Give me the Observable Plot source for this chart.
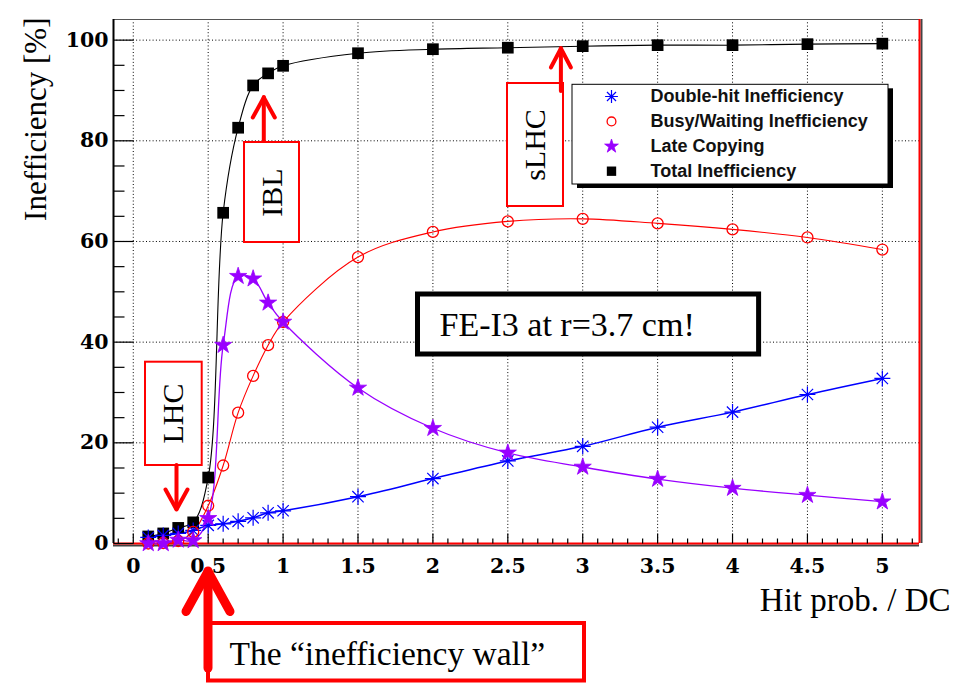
<!DOCTYPE html>
<html><head><meta charset="utf-8">
<script src="https://cdn.jsdelivr.net/npm/d3@7"></script>
<script src="https://cdn.jsdelivr.net/npm/@observablehq/plot@0.6"></script>
<style>body{margin:0;background:#fff}svg{display:block}</style>
</head><body><div id="chart"></div>
<script>
// ---- data ----
const hitProb     = [0.1, 0.2, 0.3, 0.4, 0.5, 0.6, 0.7, 0.8, 0.9, 1.0, 1.5, 2, 2.5, 3, 3.5, 4, 4.5, 5];
const doubleHit   = [1.2, 1.6, 2.0, 2.6, 3.6, 3.9, 4.4, 5.1, 6.1, 6.5, 9.3, 12.9, 16.4, 19.3, 23.1, 26.1, 29.6, 32.8];
const busyWaiting = [0.0, 0.1, 0.5, 2.3, 7.5, 15.5, 26.0, 33.3, 39.4, 44.0, 56.9, 61.9, 64.0, 64.5, 63.6, 62.4, 60.8, 58.4];
const lateCopying = [0.0, 0.0, 0.7, 0.6, 5.0, 39.4, 53.1, 52.6, 47.8, 44.0, 30.9, 22.9, 18.0, 15.2, 12.8, 11.0, 9.6, 8.3];
const totalIneff  = [1.4, 2.0, 3.1, 4.2, 13.1, 65.7, 82.6, 91.0, 93.4, 94.9, 97.4, 98.2, 98.5, 98.8, 99.0, 99.0, 99.2, 99.3];
const seriesNames = ["Double-hit Inefficiency", "Busy/Waiting Inefficiency", "Late Copying", "Total Inefficiency"];
const xTicks      = [0, 0.5, 1, 1.5, 2, 2.5, 3, 3.5, 4, 4.5, 5];
const xTickLabels = ["0", "0.5", "1", "1.5", "2", "2.5", "3", "3.5", "4", "4.5", "5"];
const yTicks      = [0, 20, 40, 60, 80, 100];
const yTickLabels = ["0", "20", "40", "60", "80", "100"];
const xTitle = "Hit prob. / DC";
const yTitle = "Inefficiency [%]";

// ---- layout ----
const W = 967, H = 683, mL = 113, mR = 48, mT = 19, mB = 140;
const xDomain = [-0.132, 5.248], yDomain = [0, 104.1];
// helpers turning page pixels into data coordinates for annotations
const X = px => xDomain[0] + (px - mL) * (xDomain[1] - xDomain[0]) / (W - mR - mL);
const Y = py => yDomain[0] + (H - mB - py) * (yDomain[1] - yDomain[0]) / (H - mB - mT);

// ---- symbols ----
const asterisk = {draw(ctx, size) {
  const r = Math.sqrt(size / Math.PI), d = r * Math.SQRT1_2;
  ctx.moveTo(-r, 0); ctx.lineTo(r, 0); ctx.moveTo(0, -r); ctx.lineTo(0, r);
  ctx.moveTo(-d, -d); ctx.lineTo(d, d); ctx.moveTo(-d, d); ctx.lineTo(d, -d);
}};
const tickSym = (ux, uy) => ({draw(ctx, size) {
  const r = Math.sqrt(size / Math.PI); ctx.moveTo(0, 0); ctx.lineTo(ux * r, uy * r);
}});
const chevron = (w, h) => ({draw(ctx, size) {
  const s = Math.sqrt(size / Math.PI); ctx.moveTo(-w * s, h * s); ctx.lineTo(0, 0); ctx.lineTo(w * s, h * s);
}});

const rows = hitProb.map((x, i) => ({x, d: doubleHit[i], b: busyWaiting[i], l: lateCopying[i], t: totalIneff[i]}));
const series = [
  {key: "d", name: seriesNames[0], color: "#0000ff", symbol: asterisk, r: 8, fill: "none", sw: 1.2, lw: 1.5},
  {key: "b", name: seriesNames[1], color: "#ff0000", symbol: "circle", r: 5.5, fill: "none", sw: 1.3, lw: 1.1},
  {key: "l", name: seriesNames[2], color: "#9900ff", symbol: "star", r: 5.4, fill: "#9900ff", sw: 0.8, lw: 1.3},
  {key: "t", name: seriesNames[3], color: "#000000", symbol: "square", r: 6.6, fill: "#000000", sw: 0, lw: 1.1}
];
const drawOrder = [3, 0, 1, 2];

const xMinor = d3.range(-1, 53).map(i => i / 10).filter(v => Math.abs(v * 2 - Math.round(v * 2)) > 1e-6);
const yMinor = d3.range(1, 21).map(i => i * 5).filter(v => v % 20 !== 0);

const dotted = {stroke: "#000", strokeWidth: 1, strokeDasharray: "1,2.3"};
const serif = "Liberation Serif";
const tickFont = {fontFamily: "DejaVu Serif", fontWeight: "bold", fontSize: 20.5, fill: "#000"};

const marks = [];
// grid
marks.push(Plot.ruleX(xTicks, {x: d => d, ...dotted}));
marks.push(Plot.ruleY(yTicks.slice(1), {y: d => d, ...dotted}));
// frame
marks.push(Plot.ruleY([yDomain[1]], {stroke: "#555", strokeWidth: 1}));
marks.push(Plot.ruleX([xDomain[1]], {stroke: "#444", strokeWidth: 2, dx: 2}));
marks.push(Plot.ruleX([xDomain[1]], {stroke: "#ff0000", strokeWidth: 2}));
marks.push(Plot.ruleY([0], {stroke: "#444", strokeWidth: 2, dy: 2}));
marks.push(Plot.ruleY([0], {stroke: "#ff0000", strokeWidth: 2}));
marks.push(Plot.ruleX([xDomain[0]], {stroke: "#000", strokeWidth: 2}));
// ticks
marks.push(Plot.dot(yTicks, {x: () => xDomain[0], y: d => d, symbol: tickSym(1, 0), r: 20, stroke: "#000", fill: "none", strokeWidth: 1.2}));
marks.push(Plot.dot(yMinor, {x: () => xDomain[0], y: d => d, symbol: tickSym(1, 0), r: 11, stroke: "#000", fill: "none", strokeWidth: 1.2}));
marks.push(Plot.dot(xTicks, {x: d => d, y: () => 0, symbol: tickSym(0, -1), r: 10, stroke: "#000", fill: "none", strokeWidth: 1.2}));
marks.push(Plot.dot(xMinor, {x: d => d, y: () => 0, symbol: tickSym(0, -1), r: 5, stroke: "#000", fill: "none", strokeWidth: 1.2}));
// tick labels
marks.push(Plot.text(xTicks, {x: d => d, y: () => 0, dy: 23, text: (d, i) => xTickLabels[i], lineAnchor: "middle", ...tickFont}));
marks.push(Plot.text(yTicks, {x: () => xDomain[0], y: d => d, dx: -5, text: (d, i) => yTickLabels[i], textAnchor: "end", lineAnchor: "middle", ...tickFont}));

// data
for (const i of drawOrder) {
  const s = series[i];
  marks.push(Plot.line(rows, {x: "x", y: s.key, stroke: s.color, strokeWidth: s.lw, curve: "catmull-rom"}));
}
for (const i of drawOrder) {
  const s = series[i];
  marks.push(Plot.dot(rows, {x: "x", y: s.key, symbol: s.symbol, r: s.r, fill: s.fill, stroke: s.color, strokeWidth: s.sw}));
}

// legend
const legendRows = series.map((s, i) => ({...s, y: Y(96 + i * 24.9)}));
const legendBox = {x1: X(572), x2: X(888), y1: Y(184), y2: Y(84.3)};
marks.push(Plot.rect([legendBox], {x1: "x1", x2: "x2", y1: "y1", y2: "y2", fill: "#000", dx: 5, dy: 4}));
marks.push(Plot.rect([legendBox], {x1: "x1", x2: "x2", y1: "y1", y2: "y2", fill: "#fff", stroke: "#000", strokeWidth: 1}));
for (const s of legendRows) {
  marks.push(Plot.dot([s], {x: () => X(611), y: "y", symbol: s.symbol, r: s.r * 0.8, fill: s.fill, stroke: s.color, strokeWidth: s.sw}));
}
marks.push(Plot.text(legendRows, {x: () => X(650), y: "y", text: "name", textAnchor: "start", lineAnchor: "middle",
  fontFamily: "Liberation Sans", fontWeight: "bold", fontSize: 18, fill: "#111"}));

// annotation helpers
const box = (x1, x2, y1, y2, stroke, sw) =>
  Plot.rect([{x1: X(x1), x2: X(x2), y1: Y(y2), y2: Y(y1)}], {x1: "x1", x2: "x2", y1: "y1", y2: "y2", fill: "#fff", stroke, strokeWidth: sw});
const label = (txt, px, py, opts) =>
  Plot.text([{x: X(px), y: Y(py), t: txt}], {x: "x", y: "y", text: "t", fill: "#000", fontFamily: serif, lineAnchor: "middle", ...opts});
const arrow = (px, pyFrom, pyTo, w, h, sw) => {
  const up = pyTo < pyFrom;
  return [
    Plot.ruleX([{x: X(px), y1: Y(pyFrom), y2: Y(pyTo)}], {x: "x", y1: "y1", y2: "y2", stroke: "#ff0000", strokeWidth: sw, strokeLinecap: "round"}),
    Plot.dot([{x: X(px), y: Y(pyTo)}], {x: "x", y: "y", symbol: chevron(w, up ? h : -h), r: 1, fill: "none",
      stroke: "#ff0000", strokeWidth: sw, strokeLinecap: "round", strokeLinejoin: "round"})
  ];
};

// IBL
marks.push(box(244, 299, 142, 242, "#ff0000", 2));
marks.push(label("IBL", 271.5, 192, {rotate: -90, textAnchor: "middle", fontSize: 30}));
marks.push(...arrow(263.3, 141, 97, 11, 20, 4));
// sLHC
marks.push(box(507, 563, 83, 206, "#ff0000", 2));
marks.push(label("sLHC", 535, 144.5, {rotate: -90, textAnchor: "middle", fontSize: 30}));
marks.push(...arrow(560.4, 91, 48, 10, 19, 4));
// LHC
marks.push(box(145, 201.7, 361.7, 465, "#ff0000", 2));
marks.push(label("LHC", 173.3, 413, {rotate: -90, textAnchor: "middle", fontSize: 30}));
marks.push(...arrow(176, 465, 509, 11, 20, 4));
// FE-I3 box
marks.push(box(417.5, 758.6, 294, 354, "#000", 5));
marks.push(label("FE-I3 at r=3.7 cm!", 439, 325, {textAnchor: "start", fontSize: 34}));
// inefficiency wall
marks.push(box(208, 584, 623, 680.5, "#ff0000", 4));
marks.push(label("The \u201Cinefficiency wall\u201D", 229, 654, {textAnchor: "start", fontSize: 33.5}));
marks.push(...arrow(207.5, 668, 571, 22, 40, 9));

// axis titles
marks.push(label(yTitle, 36, 17, {rotate: -90, textAnchor: "end", fontSize: 31}));
marks.push(label(xTitle, 950, 600, {textAnchor: "end", fontSize: 33}));

const chart = Plot.plot({
  width: W, height: H,
  marginLeft: mL, marginRight: mR, marginTop: mT, marginBottom: mB,
  x: {domain: xDomain, axis: null},
  y: {domain: yDomain, axis: null},
  style: {background: "#fff", fontFamily: serif, overflow: "visible"},
  marks
});
document.getElementById("chart").appendChild(chart);
</script>
</body></html>
